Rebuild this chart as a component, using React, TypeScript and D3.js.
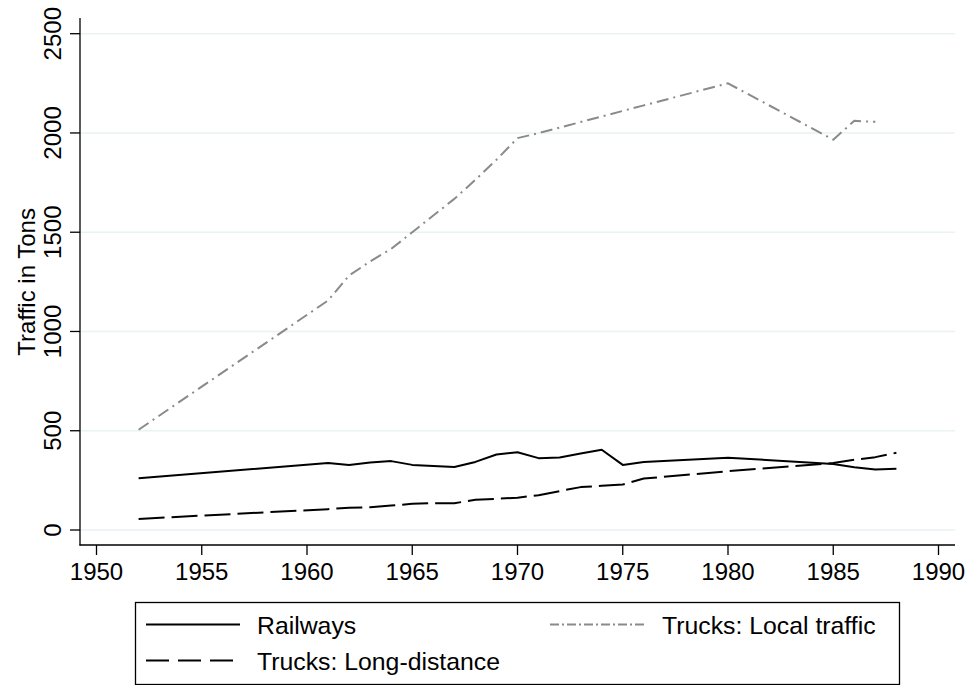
import React, { useEffect, useRef } from 'react';
import * as d3 from 'd3';

const years = [1952, 1961, 1962, 1963, 1964, 1965, 1966, 1967, 1968, 1969, 1970, 1971, 1972, 1973, 1974, 1975, 1976, 1980, 1985, 1986, 1987, 1988];
const railways = [261, 337, 327, 340, 347, 328, 322, 317, 343, 380, 392, 362, 365, 385, 404, 328, 343, 364, 333, 316, 305, 308];
const longDistance = [56, 105, 112, 115, 123, 132, 135, 135, 152, 157, 163, 175, 196, 216, 223, 229, 259, 296, 337, 354, 367, 389];
const localTraffic: (number | null)[] = [505, 1156, 1282, 1353, 1416, 1500, 1584, 1668, 1764, 1865, 1974, 1999, 2027, 2055, 2083, 2111, 2139, 2250, 1966, 2061, 2056, null];

const xTicks = [1950, 1955, 1960, 1965, 1970, 1975, 1980, 1985, 1990];
const yTicks = [0, 500, 1000, 1500, 2000, 2500];

const FONT = '"Liberation Sans", Arial, Helvetica, sans-serif';

const App: React.FC = () => {
  const svgRef = useRef<SVGSVGElement>(null);

  useEffect(() => {
    const svg = d3.select(svgRef.current);
    svg.selectAll('*').remove();

    const x = d3.scaleLinear().domain([1950, 1990]).range([96.5, 938.5]);
    const y = d3.scaleLinear().domain([0, 2500]).range([530, 33.7]);
    const axisLeft = 80;
    const axisBottom = 545;

    // gridlines
    svg.append('g')
      .selectAll('line')
      .data(yTicks)
      .join('line')
      .attr('x1', axisLeft)
      .attr('x2', 955)
      .attr('y1', d => y(d))
      .attr('y2', d => y(d))
      .attr('stroke', '#eaf2f3')
      .attr('stroke-width', 1.5);

    const series = [
      { values: railways, color: '#000', dash: null, legendDash: null },
      { values: longDistance, color: '#000', dash: '26,7', legendDash: '23,9' },
      { values: localTraffic, color: '#8a8a8a', dash: '12,5,2,5', legendDash: '9,3,2,3' },
    ];

    series.forEach(s => {
      const line = d3.line<number | null>()
        .defined(d => d != null)
        .x((d, i) => x(years[i]))
        .y(d => y(d as number));
      svg.append('path')
        .datum(s.values)
        .attr('fill', 'none')
        .attr('stroke', s.color)
        .attr('stroke-width', 2)
        .attr('stroke-linejoin', 'round')
        .attr('stroke-dasharray', s.dash)
        .attr('d', line);
    });

    // y axis
    const ya = svg.append('g').attr('transform', `translate(${axisLeft},0)`);
    ya.append('line').attr('y1', 18).attr('y2', axisBottom + 0.5).attr('stroke', '#000').attr('stroke-width', 1.3);
    ya.selectAll('.tick')
      .data(yTicks)
      .join('line')
      .attr('x1', -10)
      .attr('x2', 0)
      .attr('y1', d => y(d))
      .attr('y2', d => y(d))
      .attr('stroke', '#000')
      .attr('stroke-width', 1.3);
    ya.selectAll('text')
      .data(yTicks)
      .join('text')
      .attr('transform', d => `translate(-19,${y(d)}) rotate(-90)`)
      .attr('text-anchor', 'middle')
      .attr('font-family', FONT)
      .attr('font-size', 24)
      .text(d => String(d));

    svg.append('text')
      .attr('transform', `translate(35,${(y(0) + y(2500)) / 2}) rotate(-90)`)
      .attr('text-anchor', 'middle')
      .attr('font-family', FONT)
      .attr('font-size', 24)
      .text('Traffic in Tons');

    // x axis
    const xa = svg.append('g').attr('transform', `translate(0,${axisBottom})`);
    xa.append('line').attr('x1', axisLeft - 0.5).attr('x2', 955).attr('stroke', '#000').attr('stroke-width', 1.3);
    xa.selectAll('.tick')
      .data(xTicks)
      .join('line')
      .attr('x1', d => x(d))
      .attr('x2', d => x(d))
      .attr('y1', 0)
      .attr('y2', 10)
      .attr('stroke', '#000')
      .attr('stroke-width', 1.3);
    xa.selectAll('text')
      .data(xTicks)
      .join('text')
      .attr('x', d => x(d))
      .attr('y', 35)
      .attr('text-anchor', 'middle')
      .attr('font-family', FONT)
      .attr('font-size', 24)
      .text(d => String(d));

    // legend
    const lg = svg.append('g');
    lg.append('rect')
      .attr('x', 135.5)
      .attr('y', 602.5)
      .attr('width', 764)
      .attr('height', 82)
      .attr('fill', '#fff')
      .attr('stroke', '#000')
      .attr('stroke-width', 1.3);
    const items = [
      { label: 'Railways', sx: 146, tx: 257, ly: 624.5, s: series[0] },
      { label: 'Trucks: Local traffic', sx: 550, tx: 662, ly: 624.5, s: series[2] },
      { label: 'Trucks: Long-distance', sx: 146, tx: 257, ly: 660.5, s: series[1] },
    ];
    items.forEach(it => {
      lg.append('line')
        .attr('x1', it.sx)
        .attr('x2', it.sx + 94)
        .attr('y1', it.ly)
        .attr('y2', it.ly)
        .attr('stroke', it.s.color)
        .attr('stroke-width', 2)
        .attr('stroke-dasharray', it.s.legendDash);
      lg.append('text')
        .attr('x', it.tx)
        .attr('y', it.ly + 9)
        .attr('font-family', FONT)
        .attr('font-size', 24.8)
        .text(it.label);
    });
  }, []);

  return (
    <svg
      ref={svgRef}
      width={972}
      height={685}
      style={{ position: 'absolute', left: 0, top: 0, background: '#fff' }}
    />
  );
};

export default App;
